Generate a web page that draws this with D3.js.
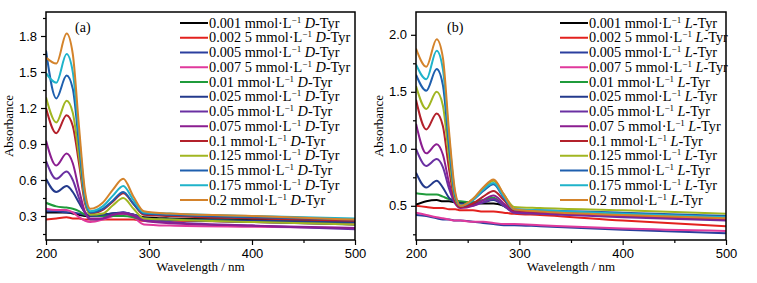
<!DOCTYPE html>
<html>
<head>
<meta charset="utf-8">
<script src="https://cdn.jsdelivr.net/npm/d3@7"></script>
<style>
  body { margin: 0; background: #fff; }
  svg { font-family: "Liberation Serif", "Times New Roman", serif; }
  .axis text { font-size: 13px; fill: #000; }
  .axis line { stroke: #000; stroke-width: 1.2; }
</style>
</head>
<body>
<svg id="chart" width="757" height="283"></svg>
<script>
const wavelengths = [200, 210, 220, 226, 232, 238, 243, 255, 265, 275, 285, 295, 320, 400, 500];

const concLabelsD = ['0.001', '0.002 5', '0.005', '0.007 5', '0.01', '0.025', '0.05', '0.075', '0.1', '0.125', '0.15', '0.175', '0.2'];
const concLabelsL = ['0.001', '0.002 5', '0.005', '0.007 5', '0.01', '0.025', '0.05', '0.07 5', '0.1', '0.125', '0.15', '0.175', '0.2'];

const seriesColors = ['#000000', '#e3211e', '#2b3f9e', '#e0399c', '#1f9b3b', '#243a8c', '#6a30a2',
  '#8b1e90', '#b3212b', '#a1b621', '#1e5fae', '#1fb3ca', '#d4832b'];

// panel (a) D-Tyr absorbance
const absD = [
  [0.33, 0.33, 0.33, 0.32, 0.31, 0.30, 0.30, 0.31, 0.32, 0.32, 0.31, 0.29, 0.28, 0.27, 0.25],
  [0.27, 0.28, 0.29, 0.28, 0.28, 0.27, 0.27, 0.27, 0.27, 0.27, 0.27, 0.26, 0.26, 0.25, 0.23],
  [0.34, 0.34, 0.33, 0.33, 0.32, 0.31, 0.30, 0.31, 0.32, 0.33, 0.31, 0.28, 0.27, 0.25, 0.23],
  [0.36, 0.35, 0.35, 0.33, 0.29, 0.26, 0.25, 0.27, 0.30, 0.32, 0.29, 0.23, 0.22, 0.21, 0.20],
  [0.41, 0.38, 0.37, 0.36, 0.34, 0.31, 0.30, 0.30, 0.30, 0.30, 0.29, 0.27, 0.27, 0.26, 0.25],
  [0.61, 0.50, 0.55, 0.50, 0.41, 0.33, 0.30, 0.31, 0.32, 0.33, 0.31, 0.28, 0.27, 0.26, 0.25],
  [0.76, 0.61, 0.67, 0.60, 0.45, 0.32, 0.27, 0.28, 0.31, 0.33, 0.31, 0.27, 0.25, 0.22, 0.19],
  [0.93, 0.72, 0.82, 0.74, 0.52, 0.33, 0.28, 0.28, 0.31, 0.32, 0.30, 0.26, 0.24, 0.22, 0.20],
  [1.20, 0.99, 1.14, 1.05, 0.74, 0.40, 0.32, 0.35, 0.42, 0.49, 0.40, 0.31, 0.30, 0.28, 0.26],
  [1.29, 1.08, 1.26, 1.16, 0.80, 0.42, 0.31, 0.32, 0.39, 0.45, 0.36, 0.28, 0.27, 0.25, 0.23],
  [1.68, 1.28, 1.47, 1.36, 0.90, 0.44, 0.33, 0.36, 0.43, 0.50, 0.40, 0.32, 0.31, 0.29, 0.27],
  [1.49, 1.41, 1.65, 1.50, 0.98, 0.47, 0.34, 0.38, 0.47, 0.55, 0.43, 0.33, 0.32, 0.30, 0.28],
  [1.62, 1.57, 1.82, 1.65, 1.05, 0.50, 0.36, 0.41, 0.52, 0.61, 0.46, 0.34, 0.32, 0.30, 0.27]
];

// panel (b) L-Tyr absorbance
const absL = [
  [0.51, 0.54, 0.55, 0.54, 0.54, 0.53, 0.53, 0.53, 0.52, 0.52, 0.50, 0.46, 0.44, 0.41, 0.38],
  [0.50, 0.49, 0.48, 0.48, 0.47, 0.47, 0.46, 0.46, 0.45, 0.45, 0.44, 0.43, 0.42, 0.37, 0.32],
  [0.42, 0.41, 0.39, 0.38, 0.38, 0.37, 0.37, 0.36, 0.35, 0.34, 0.33, 0.33, 0.32, 0.29, 0.26],
  [0.44, 0.42, 0.40, 0.39, 0.38, 0.37, 0.37, 0.36, 0.36, 0.35, 0.34, 0.34, 0.33, 0.30, 0.28],
  [0.61, 0.60, 0.60, 0.58, 0.56, 0.55, 0.54, 0.53, 0.55, 0.57, 0.50, 0.45, 0.44, 0.42, 0.39],
  [0.79, 0.66, 0.72, 0.66, 0.57, 0.53, 0.52, 0.51, 0.53, 0.55, 0.50, 0.45, 0.44, 0.41, 0.38],
  [1.00, 0.85, 0.91, 0.84, 0.65, 0.52, 0.49, 0.50, 0.53, 0.56, 0.50, 0.44, 0.43, 0.40, 0.37],
  [1.22, 0.96, 1.04, 0.95, 0.70, 0.52, 0.48, 0.50, 0.55, 0.59, 0.52, 0.45, 0.44, 0.41, 0.38],
  [1.43, 1.17, 1.31, 1.20, 0.82, 0.54, 0.49, 0.52, 0.58, 0.63, 0.55, 0.46, 0.45, 0.42, 0.39],
  [1.55, 1.35, 1.50, 1.38, 0.92, 0.56, 0.50, 0.56, 0.65, 0.72, 0.60, 0.49, 0.48, 0.46, 0.43],
  [1.65, 1.51, 1.70, 1.56, 1.02, 0.58, 0.50, 0.55, 0.63, 0.69, 0.57, 0.47, 0.46, 0.44, 0.41],
  [1.74, 1.61, 1.86, 1.70, 1.10, 0.60, 0.50, 0.55, 0.64, 0.70, 0.58, 0.47, 0.46, 0.43, 0.40],
  [1.88, 1.72, 1.96, 1.80, 1.15, 0.62, 0.50, 0.56, 0.66, 0.73, 0.60, 0.47, 0.45, 0.42, 0.39]
];

const xTicks = [200, 300, 400, 500];
const xMinor = [250, 350, 450];
const yTicksD = [0.3, 0.6, 0.9, 1.2, 1.5, 1.8];
const yMinorD = [0.15, 0.45, 0.75, 1.05, 1.35, 1.65, 1.95];
const yTicksL = [0.5, 1.0, 1.5, 2.0];
const yMinorL = [0.25, 0.75, 1.25, 1.75];

const svg = d3.select('#chart');

function drawPanel(cfg) {
  const width = cfg.width, height = cfg.height;
  const g = svg.append('g').attr('transform', `translate(${cfg.left},${cfg.top})`);

  const xScale = d3.scaleLinear().domain([200, 500]).range([0, width]);
  const yScale = d3.scaleLinear().domain(cfg.yDomain).range([height, 0]);

  // minor ticks first, then major ticks with labels
  g.append('g').attr('class', 'axis')
    .attr('transform', `translate(0,${height})`)
    .call(d3.axisBottom(xScale).tickValues(xMinor).tickSize(3).tickSizeOuter(0).tickFormat(''))
    .call(a => a.select('.domain').remove());
  g.append('g').attr('class', 'axis')
    .attr('transform', `translate(0,${height})`)
    .call(d3.axisBottom(xScale).tickValues(xTicks).tickSize(5).tickSizeOuter(0).tickPadding(4).tickFormat(d3.format('d')))
    .call(a => a.select('.domain').remove());
  g.append('g').attr('class', 'axis')
    .call(d3.axisLeft(yScale).tickValues(cfg.yMinor).tickSize(3).tickSizeOuter(0).tickFormat(''))
    .call(a => a.select('.domain').remove());
  g.append('g').attr('class', 'axis')
    .call(d3.axisLeft(yScale).tickValues(cfg.yTicks).tickSize(5).tickSizeOuter(0).tickPadding(4).tickFormat(d3.format('.1f')))
    .call(a => a.select('.domain').remove());

  g.append('clipPath').attr('id', cfg.id + '-clip')
    .append('rect').attr('width', width).attr('height', height);

  const line = d3.line()
    .x((d, i) => xScale(wavelengths[i]))
    .y(d => yScale(d))
    .curve(d3.curveMonotoneX);

  g.append('g').attr('clip-path', `url(#${cfg.id}-clip)`)
    .selectAll('path')
    .data(cfg.data)
    .join('path')
    .attr('fill', 'none')
    .attr('stroke', (d, i) => seriesColors[i])
    .attr('stroke-width', 2)
    .attr('stroke-linejoin', 'round')
    .attr('d', line);

  g.append('rect')
    .attr('width', width).attr('height', height)
    .attr('fill', 'none').attr('stroke', '#000').attr('stroke-width', 1.5);

  g.append('text')
    .attr('x', cfg.tagX).attr('y', 20)
    .style('font-size', '14px')
    .text(cfg.tag);

  // legend
  const legend = g.append('g');
  const rows = legend.selectAll('g')
    .data(cfg.labels)
    .join('g')
    .attr('transform', (d, i) => `translate(0,${11 + i * 14.75})`);
  rows.append('line')
    .attr('x1', cfg.legendX).attr('x2', cfg.legendX + 28)
    .attr('stroke', (d, i) => seriesColors[i])
    .attr('stroke-width', 2);
  const txt = rows.append('text')
    .attr('x', cfg.legendX + 29).attr('y', 4.5)
    .style('font-size', '14.3px');
  txt.append('tspan').text(d => d + ' mmol\u00b7L');
  txt.append('tspan').attr('dy', -5).style('font-size', '9px').text('\u22121');
  txt.append('tspan').attr('dy', 5).text(' ');
  txt.append('tspan').style('font-style', 'italic').text(cfg.iso);
  txt.append('tspan').text('-Tyr');

  g.append('text')
    .attr('x', width / 2).attr('y', height + 31)
    .attr('text-anchor', 'middle')
    .style('font-size', '13px')
    .text('Wavelength / nm');

  g.append('text')
    .attr('transform', `translate(${cfg.yTitleX},${height / 2}) rotate(-90)`)
    .attr('text-anchor', 'middle')
    .style('font-size', '13px')
    .text('Absorbance');
}

drawPanel({id: 'pa', left: 46, top: 12, width: 309, height: 228, yDomain: [0.1, 2.0],
  yTicks: yTicksD, yMinor: yMinorD, data: absD, labels: concLabelsD, iso: 'D',
  tag: '(a)', tagX: 29, legendX: 134, yTitleX: -33});

drawPanel({id: 'pb', left: 416, top: 12, width: 310, height: 228, yDomain: [0.2, 2.2],
  yTicks: yTicksL, yMinor: yMinorL, data: absL, labels: concLabelsL, iso: 'L',
  tag: '(b)', tagX: 31, legendX: 144, yTitleX: -33});
</script>
</body>
</html>
